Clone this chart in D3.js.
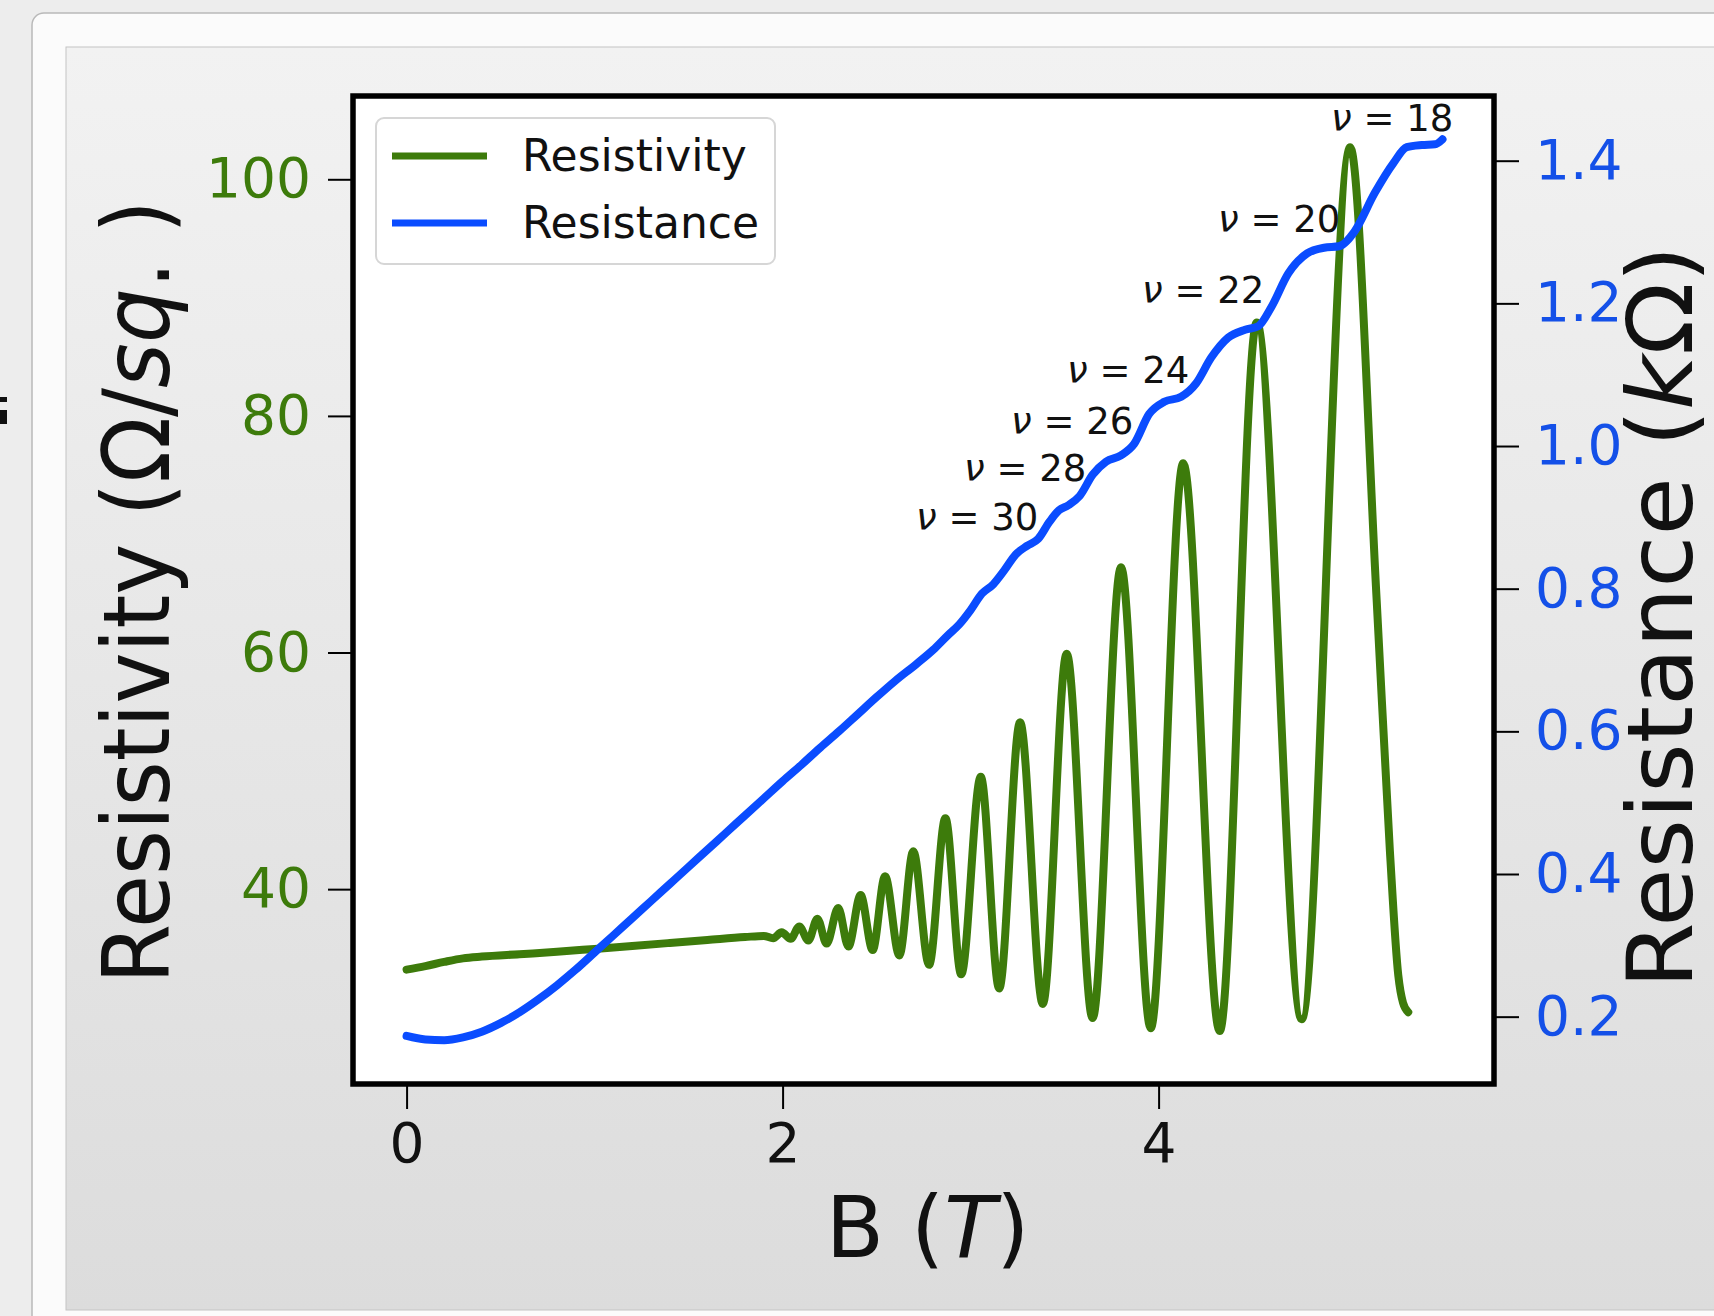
<!DOCTYPE html>
<html>
<head>
<meta charset="utf-8">
<style>
  body { margin:0; background:#ececec; }
  svg { display:block; }
  text { font-family:"DejaVu Sans", sans-serif; }
</style>
</head>
<body>
<script src="https://d3js.org/d3.v7.min.js"></script>
<script>

  // DATA
  // resistivity, left axis (Ohm/sq.)
  const rhoB = [0, 0.1, 0.2, 0.3, 0.4, 0.6, 0.8, 1.0, 1.2, 1.4, 1.6, 1.8, 1.9,
    1.95, 1.995, 2.043, 2.089, 2.137, 2.185, 2.234, 2.296, 2.35, 2.415, 2.479, 2.545,
    2.621, 2.695, 2.779, 2.866, 2.95, 3.054, 3.152, 3.263, 3.384, 3.511, 3.649, 3.80,
    3.958, 4.131, 4.325, 4.522, 4.761, 5.019, 5.16, 5.23, 5.275, 5.30, 5.328];
  const rho = [33.2, 33.5, 33.85, 34.15, 34.3, 34.5, 34.7, 34.95, 35.2, 35.45, 35.7, 35.95, 36.05,
    35.85, 36.35, 35.8, 36.85, 35.65, 37.5, 35.4, 38.4, 35.15, 39.5, 34.85, 41.1,
    34.4, 43.2, 33.6, 46.0, 32.8, 49.5, 31.6, 54.1, 30.3, 59.9, 29.1, 67.2,
    28.25, 76.0, 28.0, 87.9, 29.0, 102.7, 64.4, 43.3, 32.7, 30.4, 29.6];

  // resistance, right axis (kOhm)
  const resB = [0, 0.1, 0.2, 0.3, 0.4, 0.5, 0.6, 0.7, 0.8, 0.9, 1.0, 1.1, 1.2, 1.3, 1.4,
    1.5, 1.6, 1.7, 1.8, 1.9, 2.0, 2.1, 2.2, 2.3, 2.4, 2.5, 2.6, 2.71, 2.8, 2.88, 2.94,
    3.0, 3.06, 3.12, 3.18, 3.24, 3.3, 3.36, 3.42, 3.47, 3.52, 3.58, 3.65, 3.72, 3.8,
    3.87, 3.95, 4.03, 4.12, 4.2, 4.28, 4.37, 4.46, 4.53, 4.6, 4.69, 4.79, 4.88, 4.96,
    5.04, 5.15, 5.25, 5.32, 5.4, 5.47, 5.51];
  const res = [0.173, 0.168, 0.167, 0.171, 0.179, 0.191, 0.206, 0.224, 0.244, 0.266, 0.290,
    0.314, 0.338, 0.362, 0.386, 0.410, 0.434, 0.458, 0.482, 0.506, 0.530, 0.553, 0.577,
    0.600, 0.624, 0.648, 0.671, 0.694, 0.714, 0.735, 0.750,
    0.770, 0.793, 0.806, 0.826, 0.848, 0.860, 0.870, 0.894, 0.910, 0.917, 0.930, 0.960,
    0.978, 0.987, 1.003, 1.045, 1.062, 1.069, 1.088, 1.124, 1.152, 1.163, 1.168, 1.195,
    1.242, 1.270, 1.278, 1.280, 1.300, 1.355, 1.397, 1.419, 1.422, 1.423, 1.430];

  // filling factor annotations (text start, baseline) in data units of the right axis
  const nuValues = [18, 20, 22, 24, 26, 28, 30];
  const nuB = [4.917, 4.316, 3.912, 3.513, 3.215, 2.965, 2.710];
  const nuR = [1.4416, 1.300, 1.2005, 1.0883, 1.0168, 0.951, 0.882];

  const xTicks = [0, 2, 4];
  const rhoTicks = [40, 60, 80, 100];
  const resTicks = [0.2, 0.4, 0.6, 0.8, 1.0, 1.2, 1.4];

  // SETTING THE DIMENSIONS
  const width = 1714, height = 1316;
  const plot = { left: 353, right: 1494, top: 96, bottom: 1084 };
  const green = "#3d7b0b", blue = "#0a4cff", blueText = "#1450e8";

  const svg = d3.select("body").append("svg")
    .attr("width", width)
    .attr("height", height);

  // BACKGROUND (window / panel)
  const defs = svg.append("defs");
  const grad = defs.append("linearGradient").attr("id", "panelGrad")
    .attr("x1", 0).attr("y1", 0).attr("x2", 0).attr("y2", 1);
  grad.append("stop").attr("offset", "0%").attr("stop-color", "#f2f2f2");
  grad.append("stop").attr("offset", "100%").attr("stop-color", "#dcdcdc");

  svg.append("rect").attr("width", width).attr("height", height).attr("fill", "#ededed");
  svg.append("rect").attr("x", 34).attr("y", 15).attr("width", width).attr("height", height)
    .attr("rx", 12).attr("fill", "none").attr("stroke", "#d4d4d4").attr("stroke-width", 4);
  svg.append("rect").attr("x", 32).attr("y", 13).attr("width", width).attr("height", height)
    .attr("rx", 12).attr("fill", "#fbfbfb").attr("stroke", "#b9b9b9").attr("stroke-width", 1.5);
  svg.append("rect").attr("x", 66).attr("y", 47).attr("width", width).attr("height", 1310 - 47)
    .attr("fill", "url(#panelGrad)").attr("stroke", "#c4c4c4").attr("stroke-width", 1);

  // cut-off glyph at the left edge
  svg.append("rect").attr("x", 0).attr("y", 397).attr("width", 7).attr("height", 5).attr("fill", "#111");
  svg.append("rect").attr("x", 0).attr("y", 410).attr("width", 7).attr("height", 14).attr("fill", "#111");

  // SCALES
  const x = d3.scaleLinear().domain([-0.285, 5.784]).range([plot.left, plot.right]);
  const yRho = d3.scaleLinear().domain([23.53, 107.04]).range([plot.bottom, plot.top]);
  const yRes = d3.scaleLinear().domain([0.1056, 1.4907]).range([plot.bottom, plot.top]);

  // plot area
  svg.append("rect")
    .attr("x", plot.left).attr("y", plot.top)
    .attr("width", plot.right - plot.left).attr("height", plot.bottom - plot.top)
    .attr("fill", "#fff");

  // LINES
  const rhoLine = d3.line()
    .x((d, i) => x(rhoB[i]))
    .y(d => yRho(d))
    .curve(d3.curveMonotoneX);
  const resLine = d3.line()
    .x((d, i) => x(resB[i]))
    .y(d => yRes(d))
    .curve(d3.curveMonotoneX);

  svg.append("path").datum(rho)
    .attr("d", rhoLine)
    .attr("fill", "none").attr("stroke", green).attr("stroke-width", 8)
    .attr("stroke-linejoin", "round").attr("stroke-linecap", "round");

  svg.append("path").datum(res)
    .attr("d", resLine)
    .attr("fill", "none").attr("stroke", blue).attr("stroke-width", 8)
    .attr("stroke-linejoin", "round").attr("stroke-linecap", "round");

  // nu annotations
  nuValues.forEach((nu, i) => {
    const t = svg.append("text")
      .attr("x", x(nuB[i])).attr("y", yRes(nuR[i]))
      .attr("fill", "#111")
      .style("font-size", "37px");
    t.append("tspan").style("font-style", "italic").text("ν");
    t.append("tspan").text(" = " + nu);
  });

  // FRAME
  svg.append("rect")
    .attr("x", plot.left).attr("y", plot.top)
    .attr("width", plot.right - plot.left).attr("height", plot.bottom - plot.top)
    .attr("fill", "none").attr("stroke", "#000").attr("stroke-width", 5.5);

  // AXES
  function styleAxis(g, color) {
    g.select(".domain").remove();
    g.selectAll(".tick line").attr("stroke", "#000").attr("stroke-width", 2);
    g.selectAll(".tick text").attr("fill", color)
      .style("font-size", "55px").style("font-family", "'DejaVu Sans', sans-serif");
  }

  svg.append("g")
    .attr("transform", `translate(${plot.left},0)`)
    .call(d3.axisLeft(yRho).tickValues(rhoTicks).tickSize(25).tickPadding(17)
      .tickFormat(d3.format("d")))
    .call(g => styleAxis(g, green));

  svg.append("g")
    .attr("transform", `translate(${plot.right},0)`)
    .call(d3.axisRight(yRes).tickValues(resTicks).tickSize(25).tickPadding(16)
      .tickFormat(d3.format(".1f")))
    .call(g => styleAxis(g, blueText));

  svg.append("g")
    .attr("transform", `translate(0,${plot.bottom})`)
    .call(d3.axisBottom(x).tickValues(xTicks).tickSize(25).tickPadding(14)
      .tickFormat(d3.format("d")))
    .call(g => styleAxis(g, "#111"));

  // AXIS LABELS
  const yLab = svg.append("text")
    .attr("transform", "translate(169,592) rotate(-90)")
    .attr("text-anchor", "middle")
    .attr("textLength", 784).attr("lengthAdjust", "spacingAndGlyphs")
    .attr("fill", "#111")
    .style("font-size", "92px");
  yLab.append("tspan").text("Resistivity (Ω/");
  yLab.append("tspan").style("font-style", "italic").text("sq");
  yLab.append("tspan").text(". )");

  // right label sits hard against the window edge, kept just inside it
  const yLab2 = svg.append("text")
    .attr("transform", "translate(1692,617) rotate(-90)")
    .attr("text-anchor", "middle")
    .attr("textLength", 743).attr("lengthAdjust", "spacingAndGlyphs")
    .attr("fill", "#111")
    .style("font-size", "90px");
  yLab2.append("tspan").text("Resistance (");
  yLab2.append("tspan").style("font-style", "italic").text("k");
  yLab2.append("tspan").text("Ω)");

  const xLab = svg.append("text")
    .attr("x", (plot.left + plot.right) / 2 + 4).attr("y", 1257)
    .attr("text-anchor", "middle")
    .attr("fill", "#111")
    .style("font-size", "85px");
  xLab.append("tspan").text("B (");
  xLab.append("tspan").style("font-style", "italic").text("T");
  xLab.append("tspan").text(")");

  // LEGEND
  const legendItems = [
    { label: "Resistivity", color: green },
    { label: "Resistance", color: blue }
  ];
  const legend = svg.append("g").attr("transform", "translate(376,118)");
  legend.append("rect")
    .attr("width", 399).attr("height", 146).attr("rx", 8)
    .attr("fill", "#fff").attr("fill-opacity", 0.85)
    .attr("stroke", "#d6d6d6").attr("stroke-width", 2);
  legend.selectAll("g.item")
    .data(legendItems)
    .enter().append("g")
      .classed("item", true)
      .attr("transform", (d, i) => `translate(0,${38 + i * 67})`)
      .each(function(d) {
        const g = d3.select(this);
        g.append("line")
          .attr("x1", 16).attr("x2", 111)
          .attr("stroke", d.color).attr("stroke-width", 7);
        g.append("text")
          .attr("x", 146).attr("y", 15)
          .attr("fill", "#111")
          .style("font-size", "44px")
          .text(d.label);
      });

</script>
</body>
</html>
